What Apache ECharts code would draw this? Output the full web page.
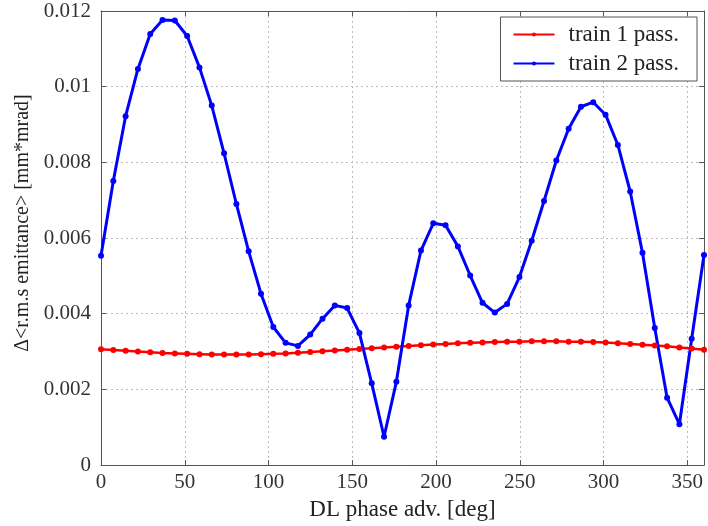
<!DOCTYPE html>
<html>
<head>
<meta charset="utf-8">
<script src="https://cdn.jsdelivr.net/npm/echarts@6/dist/echarts.min.js"></script>
<style>
  html, body { margin: 0; padding: 0; background: #fff; }
  #main { width: 708px; height: 526px; }
</style>
</head>
<body>
<div id="main"></div>
<script>
// phase advance samples (deg), 50 points from 0 to 360
var phase = [0, 7.35, 14.69, 22.04, 29.39, 36.73, 44.08, 51.43, 58.78, 66.12,
  73.47, 80.82, 88.16, 95.51, 102.86, 110.2, 117.55, 124.9, 132.24, 139.59,
  146.94, 154.29, 161.63, 168.98, 176.33, 183.67, 191.02, 198.37, 205.71, 213.06,
  220.41, 227.76, 235.1, 242.45, 249.8, 257.14, 264.49, 271.84, 279.18, 286.53,
  293.88, 301.22, 308.57, 315.92, 323.27, 330.61, 337.96, 345.31, 352.65, 360];

var train1 = [0.00306, 0.00304, 0.00302, 0.00300, 0.00298, 0.00296, 0.00295, 0.00294, 0.00293, 0.00292,
  0.00292, 0.00292, 0.00292, 0.00293, 0.00294, 0.00295, 0.00297, 0.00299, 0.00301, 0.00303,
  0.00305, 0.00307, 0.00309, 0.00311, 0.00313, 0.00315, 0.00317, 0.00319, 0.00320, 0.00322,
  0.00323, 0.00324, 0.00325, 0.00326, 0.00326, 0.00327, 0.00327, 0.00327, 0.00326, 0.00326,
  0.00325, 0.00324, 0.00322, 0.00320, 0.00318, 0.00316, 0.00314, 0.00311, 0.00308, 0.00305];

var train2 = [0.00553, 0.00751, 0.00922, 0.01047, 0.01139, 0.01176, 0.01175, 0.01134, 0.01051, 0.0095,
  0.00824, 0.0069, 0.00565, 0.00453, 0.00365, 0.00323, 0.00315, 0.00345, 0.00387, 0.00422,
  0.00415, 0.00349, 0.00216, 0.00075, 0.0022, 0.00422, 0.00567, 0.00639, 0.00634, 0.00578,
  0.00501, 0.00429, 0.00403, 0.00426, 0.00497, 0.00593, 0.00698, 0.00805, 0.00889, 0.00947,
  0.00959, 0.00926, 0.00846, 0.00723, 0.00561, 0.00362, 0.00178, 0.00108, 0.00334, 0.00555];

var xTicks = [0, 50, 100, 150, 200, 250, 300, 350];
var yTicks = [0, 0.002, 0.004, 0.006, 0.008, 0.01, 0.012];

function pairs(xs, ys) {
  return xs.map(function (x, i) { return [x, ys[i]]; });
}

var font = 'Liberation Serif';
var axisColor = '#555';
var tickStyle = { inside: true, length: 5, lineStyle: { color: axisColor } };
var gridStyle = { show: true, lineStyle: { color: '#bbb', type: [2, 3] } };
var labelStyle = { fontFamily: font, fontSize: 21, color: '#333' };

var chart = echarts.init(document.getElementById('main'));
chart.setOption({
  animation: false,
  grid: { left: 101, right: 4, top: 11, bottom: 59 },
  legend: {
    right: 11, top: 17,
    orient: 'vertical',
    backgroundColor: '#fff',
    borderColor: '#555', borderWidth: 1,
    padding: [6, 18, 6, 12],
    itemGap: 6,
    itemWidth: 41, itemHeight: 5,
    textStyle: { fontFamily: font, fontSize: 23, color: '#222', lineHeight: 21, padding: [0, 0, 0, 9] },
    data: ['train 1 pass.', 'train 2 pass.']
  },
  xAxis: [{
    type: 'value', min: 0, max: 360, interval: 50,
    name: 'DL phase adv. [deg]', nameLocation: 'middle', nameGap: 29,
    nameTextStyle: { fontFamily: font, fontSize: 23, color: '#222' },
    axisLine: { onZero: false, lineStyle: { color: axisColor } },
    axisTick: tickStyle,
    axisLabel: Object.assign({ margin: 7, showMaxLabel: false }, labelStyle),
    splitLine: gridStyle
  }, {
    type: 'value', min: 0, max: 360, interval: 50, position: 'top',
    axisLine: { show: true, onZero: false, lineStyle: { color: axisColor } },
    axisTick: tickStyle,
    axisLabel: { show: false },
    splitLine: { show: false }
  }],
  yAxis: [{
    type: 'value', min: yTicks[0], max: yTicks[yTicks.length - 1], interval: 0.002,
    name: 'Δ<r.m.s emittance> [mm*mrad]', nameLocation: 'middle', nameGap: 66,
    nameTextStyle: { fontFamily: font, fontSize: 20, color: '#222', padding: [0, 0, 0, 30] },
    axisLine: { show: true, onZero: false, lineStyle: { color: axisColor } },
    axisTick: tickStyle,
    axisLabel: Object.assign({ margin: 10 }, labelStyle),
    splitLine: gridStyle
  }, {
    type: 'value', min: yTicks[0], max: yTicks[yTicks.length - 1], interval: 0.002, position: 'right',
    axisLine: { show: true, onZero: false, lineStyle: { color: axisColor } },
    axisTick: tickStyle,
    axisLabel: { show: false },
    splitLine: { show: false }
  }],
  series: [{
    name: 'train 1 pass.', type: 'line',
    data: pairs(phase, train1),
    symbol: 'circle', symbolSize: 6,
    lineStyle: { color: '#ff0000', width: 2.5 },
    itemStyle: { color: '#ff0000' }
  }, {
    name: 'train 2 pass.', type: 'line',
    data: pairs(phase, train2),
    symbol: 'circle', symbolSize: 6,
    lineStyle: { color: '#0000ff', width: 3 },
    itemStyle: { color: '#0000ff' }
  }]
});
</script>
</body>
</html>
